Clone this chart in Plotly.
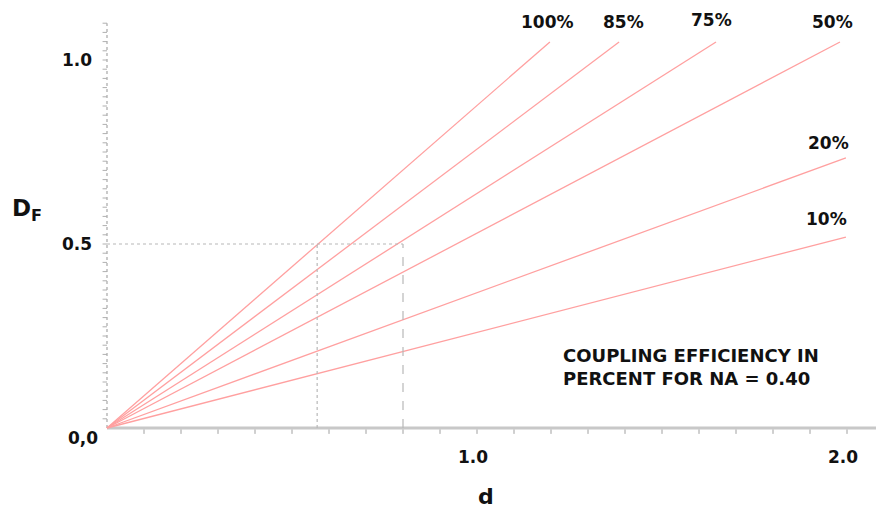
import plotly.graph_objects as go

# Data
efficiency_labels = ["100%", "85%", "75%", "50%", "20%", "10%"]
d_end = [1.197, 1.384, 1.646, 1.981, 1.997, 1.997]
DF_end = [1.049, 1.049, 1.049, 1.049, 0.734, 0.519]
label_d = [1.190, 1.395, 1.633, 1.960, 1.950, 1.945]
label_DF = [1.104, 1.104, 1.110, 1.104, 0.775, 0.568]

ref_DF = 0.5
ref_d = [0.568, 0.8]

x_ticklabels = ["1.0", "2.0"]
x_tickpos = [1.0, 2.0]
y_ticklabels = ["1.0", "0.5", "0,0"]
y_tickpos = [1.0, 0.5, 0.0]

FONT = "DejaVu Sans"
LINE_COLOR = "#ffa0a0"
GRAY = "#b8b8b8"

# pixel mapping: origin at (107, 428), 370 px per unit of d, 368 px per unit of DF
W, H = 876, 510
x0 = -107 / 370
x1 = (W - 107) / 370
y1 = 428 / 368
y0 = -(H - 428) / 368

fig = go.Figure()

for lab, de, De in zip(efficiency_labels, d_end, DF_end):
    fig.add_trace(go.Scatter(x=[0, de], y=[0, De], mode="lines",
                             line=dict(color=LINE_COLOR, width=1.3),
                             showlegend=False, hoverinfo="skip"))

# reference lines
fig.add_trace(go.Scatter(x=[0, ref_d[1]], y=[ref_DF, ref_DF], mode="lines",
                         line=dict(color=GRAY, width=1.2, dash="dot"),
                         showlegend=False, hoverinfo="skip"))
fig.add_trace(go.Scatter(x=[ref_d[0], ref_d[0]], y=[0, ref_DF], mode="lines",
                         line=dict(color=GRAY, width=1.2, dash="dot"),
                         showlegend=False, hoverinfo="skip"))
fig.add_trace(go.Scatter(x=[ref_d[1], ref_d[1]], y=[0, ref_DF], mode="lines",
                         line=dict(color=GRAY, width=1.2, dash="dash"),
                         showlegend=False, hoverinfo="skip"))

shapes = [
    # x axis
    dict(type="line", xref="x", yref="y", x0=0, x1=x1, y0=0, y1=0,
         line=dict(color="#c8c8c8", width=3), layer="below"),
    # y axis
    dict(type="line", xref="x", yref="y", x0=0, x1=0, y0=0, y1=1.10,
         line=dict(color="#a8a8a8", width=1.2, dash="dot"), layer="below"),
]
# x minor ticks every 0.1
for i in range(1, 21):
    shapes.append(dict(type="line", xref="x", yref="y", x0=i / 10, x1=i / 10,
                       y0=-0.004, y1=-0.016, line=dict(color="#a0a0a0", width=1)))
# y minor ticks
for i in range(1, 45):
    v = i * 0.025
    shapes.append(dict(type="line", xref="x", yref="y", x0=-0.012, x1=0,
                       y0=v, y1=v, line=dict(color="#b0b0b0", width=1)))

annotations = []
for lab, lx, ly in zip(efficiency_labels, label_d, label_DF):
    annotations.append(dict(x=lx, y=ly, xref="x", yref="y", text="<b>" + lab + "</b>",
                            showarrow=False, font=dict(family=FONT, size=17, color="#111"),
                            xanchor="center", yanchor="middle"))
for t, v in zip(x_ticklabels, x_tickpos):
    annotations.append(dict(x=v - 0.012, y=-0.078, xref="x", yref="y", text="<b>" + t + "</b>",
                            showarrow=False, font=dict(family=FONT, size=17, color="#111"),
                            xanchor="center", yanchor="middle"))
for t, v in zip(y_ticklabels, y_tickpos):
    dy = -0.028 if v == 0 else 0
    dx = 0.015 if v == 0 else 0
    annotations.append(dict(x=-0.034 + dx, y=v + dy, xref="x", yref="y", text="<b>" + t + "</b>",
                            showarrow=False, font=dict(family=FONT, size=17, color="#111"),
                            xanchor="right", yanchor="middle"))
annotations.append(dict(x=-0.215, y=0.592, xref="x", yref="y",
                        text="<b>D<sub>F</sub></b>", showarrow=False,
                        font=dict(family=FONT, size=23, color="#111"),
                        xanchor="center", yanchor="middle"))
annotations.append(dict(x=1.025, y=-0.185, xref="x", yref="y", text="<b>d</b>",
                        showarrow=False, font=dict(family=FONT, size=22, color="#111"),
                        xanchor="center", yanchor="middle"))
annotations.append(dict(x=(561 - 107) / 370, y=(428 - 367) / 368, xref="x", yref="y",
                        text="<b>COUPLING EFFICIENCY IN<br>PERCENT FOR NA = 0.40</b>",
                        showarrow=False, align="left",
                        font=dict(family=FONT, size=18, color="#111"),
                        xanchor="left", yanchor="middle"))

fig.update_layout(
    width=W, height=H,
    margin=dict(l=0, r=0, t=0, b=0),
    paper_bgcolor="white", plot_bgcolor="white",
    xaxis=dict(range=[x0, x1], visible=False, fixedrange=True),
    yaxis=dict(range=[y0, y1], visible=False, fixedrange=True),
    shapes=shapes, annotations=annotations,
)

fig.write_html("out.html")
